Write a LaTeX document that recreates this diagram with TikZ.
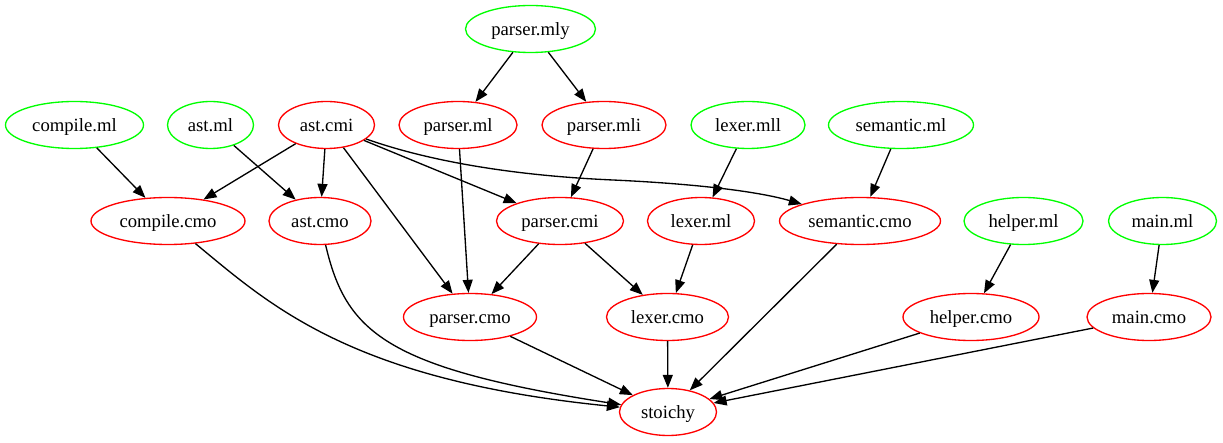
\documentclass[tikz,border=0pt]{standalone}
\usepackage{fontspec}
\setmainfont{Liberation Serif}
\usetikzlibrary{shapes.geometric,arrows.meta}
\definecolor{gvgreen}{RGB}{0,255,0}
\definecolor{gvred}{RGB}{255,0,0}
\begin{document}
\begin{tikzpicture}[x=1pt,y=-1pt,
  nd/.style={ellipse, draw, line width=1.33pt, inner sep=0pt, minimum height=47pt,
    text height=12.6pt, text depth=0pt,
    font=\fontsize{18.67}{22}\selectfont},
  src/.style={nd, draw=gvgreen},
  obj/.style={nd, draw=gvred},
  dep/.style={line width=1.33pt, draw=black, -{Triangle[length=13pt,width=10pt]}}]
\useasboundingbox (0,0) rectangle (1223,443);

% row 0
\node[src, minimum width=130pt] (pmly) at (530.5,29) {parser.mly};
% row 1
\node[src, minimum width=138pt] (cml) at (74.5,125) {compile.ml};
\node[src, minimum width=86pt] (astml) at (210.5,125) {ast.ml};
\node[obj, minimum width=96pt] (astcmi) at (326.5,125) {ast.cmi};
\node[obj, minimum width=118pt] (pml) at (458,125) {parser.ml};
\node[obj, minimum width=124pt] (pmli) at (604,125) {parser.mli};
\node[src, minimum width=114pt] (lmll) at (748,125) {lexer.mll};
\node[src, minimum width=145pt] (semml) at (901,125) {semantic.ml};
% row 2
\node[obj, minimum width=154pt] (ccmo) at (168,221) {compile.cmo};
\node[obj, minimum width=102pt] (astcmo) at (320,221) {ast.cmo};
\node[obj, minimum width=127pt] (pcmi) at (560,221) {parser.cmi};
\node[obj, minimum width=107pt] (lml) at (701,221) {lexer.ml};
\node[obj, minimum width=161pt] (semcmo) at (860,221) {semantic.cmo};
\node[src, minimum width=119pt] (hml) at (1023.5,221) {helper.ml};
\node[src, minimum width=108pt] (mml) at (1162.5,221) {main.ml};
% row 3
\node[obj, minimum width=133pt] (pcmo) at (470,317) {parser.cmo};
\node[obj, minimum width=122pt] (lcmo) at (667.5,317) {lexer.cmo};
\node[obj, minimum width=136pt] (hcmo) at (971,317) {helper.cmo};
\node[obj, minimum width=124pt] (mcmo) at (1149,317) {main.cmo};
% row 4
\node[obj, minimum width=97pt] (stoichy) at (668,412) {stoichy};

% edges
\draw[dep] (pmly) -- (pml);
\draw[dep] (pmly) -- (pmli);
\draw[dep] (cml) -- (ccmo);
\draw[dep] (astml) -- (astcmo);
\draw[dep] (astcmi) -- (ccmo);
\draw[dep] (astcmi) -- (astcmo);
\draw[dep] (astcmi) -- (pcmo);
\draw[dep] (astcmi) -- (pcmi);
\draw[dep] (astcmi) .. controls (420,158) and (500,175) .. (613,180)
                    .. controls (700,184) and (760,192) .. (semcmo);
\draw[dep] (pml) -- (pcmo);
\draw[dep] (pmli) -- (pcmi);
\draw[dep] (lmll) -- (lml);
\draw[dep] (semml) -- (semcmo);
\draw[dep] (pcmi) -- (pcmo);
\draw[dep] (pcmi) -- (lcmo);
\draw[dep] (lml) -- (lcmo);
\draw[dep] (hml) -- (hcmo);
\draw[dep] (mml) -- (mcmo);
\draw[dep] (ccmo) .. controls (270,305) and (350,380) .. (stoichy);
\draw[dep] (astcmo) .. controls (346,332) and (385,368) .. (stoichy);
\draw[dep] (pcmo) -- (stoichy);
\draw[dep] (lcmo) -- (stoichy);
\draw[dep] (semcmo) -- (stoichy);
\draw[dep] (hcmo) -- (stoichy);
\draw[dep] (mcmo) -- (stoichy);
\end{tikzpicture}
\end{document}
